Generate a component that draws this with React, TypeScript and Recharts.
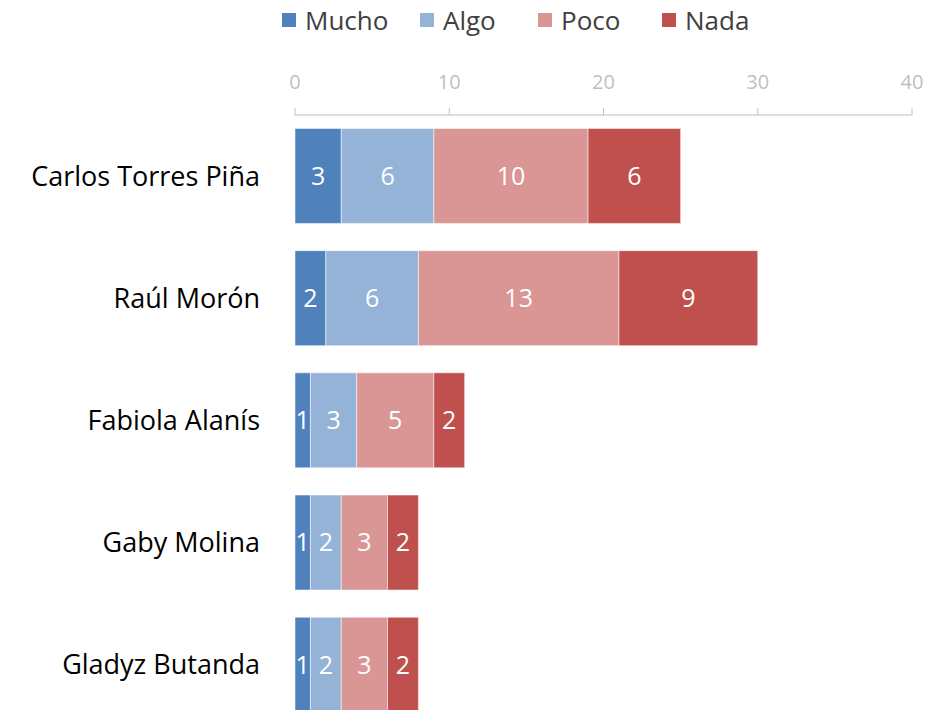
import { FC } from "react";
import { Bar, BarChart, LabelList, XAxis, YAxis } from "recharts";

const NAMES: string[] = [
  "Carlos Torres Piña",
  "Raúl Morón",
  "Fabiola Alanís",
  "Gaby Molina",
  "Gladyz Butanda",
];
const MUCHO: number[] = [3, 2, 1, 1, 1];
const ALGO: number[] = [6, 6, 3, 2, 2];
const POCO: number[] = [10, 13, 5, 3, 3];
const NADA: number[] = [6, 9, 2, 2, 2];
const X_TICKS: number[] = [0, 10, 20, 30, 40];

const SERIES = [
  { key: "mucho", name: "Mucho", color: "#4F81BD" },
  { key: "algo", name: "Algo", color: "#95B3D7" },
  { key: "poco", name: "Poco", color: "#DA9694" },
  { key: "nada", name: "Nada", color: "#C0504D" },
];
// width of each legend entry (icon + text + gap)
const LEGEND_ITEM_W = [138, 118, 124, 110];

const FONT = "'Open Sans', 'Noto Sans', sans-serif";

const App: FC = () => {
  const data = NAMES.map((name, i) => ({
    name,
    mucho: MUCHO[i],
    algo: ALGO[i],
    poco: POCO[i],
    nada: NADA[i],
  }));

  return (
    <div
      style={{
        position: "absolute",
        left: 0,
        top: 0,
        width: 947,
        height: 710,
        overflow: "hidden",
        background: "#fff",
        fontFamily: FONT,
      }}
    >
      {/* legend */}
      <div
        style={{
          position: "absolute",
          left: 282,
          top: 2,
          display: "flex",
          alignItems: "center",
          fontSize: 26,
          color: "#404040",
          lineHeight: "36px",
        }}
      >
        {SERIES.map((s, i) => (
          <div key={s.key} style={{ display: "flex", alignItems: "center", width: LEGEND_ITEM_W[i] }}>
            <span style={{ width: 14, height: 14, background: s.color, marginRight: 9 }} />
            <span>{s.name}</span>
          </div>
        ))}
      </div>
      <BarChart
        width={947}
        height={730}
        data={data}
        layout="vertical"
        margin={{ top: 60, right: 35, bottom: 4, left: 0 }}
        barCategoryGap="11%"
        style={{ fontFamily: FONT }}
      >
        <XAxis
          type="number"
          orientation="top"
          domain={[0, 40]}
          ticks={X_TICKS}
          height={55}
          tick={{ fill: "#bfbfbf", fontSize: 20 }}
          axisLine={{ stroke: "#bfbfbf" }}
          tickLine={{ stroke: "#bfbfbf" }}
          tickSize={7}
          tickMargin={19}
        />
        <YAxis
          type="category"
          dataKey="name"
          width={295}
          axisLine={false}
          tickLine={false}
          tickSize={0}
          tickMargin={35}
          tick={{ fill: "#000", fontSize: 27 }}
        />
        {SERIES.map((s) => (
          <Bar
            key={s.key}
            dataKey={s.key}
            name={s.name}
            stackId="a"
            fill={s.color}
            stroke="#fff"
            strokeOpacity={0.5}
            strokeWidth={1}
            isAnimationActive={false}
          >
            <LabelList dataKey={s.key} position="center" fill="#fff" fontSize={25} />
          </Bar>
        ))}
      </BarChart>
    </div>
  );
};

export default App;
